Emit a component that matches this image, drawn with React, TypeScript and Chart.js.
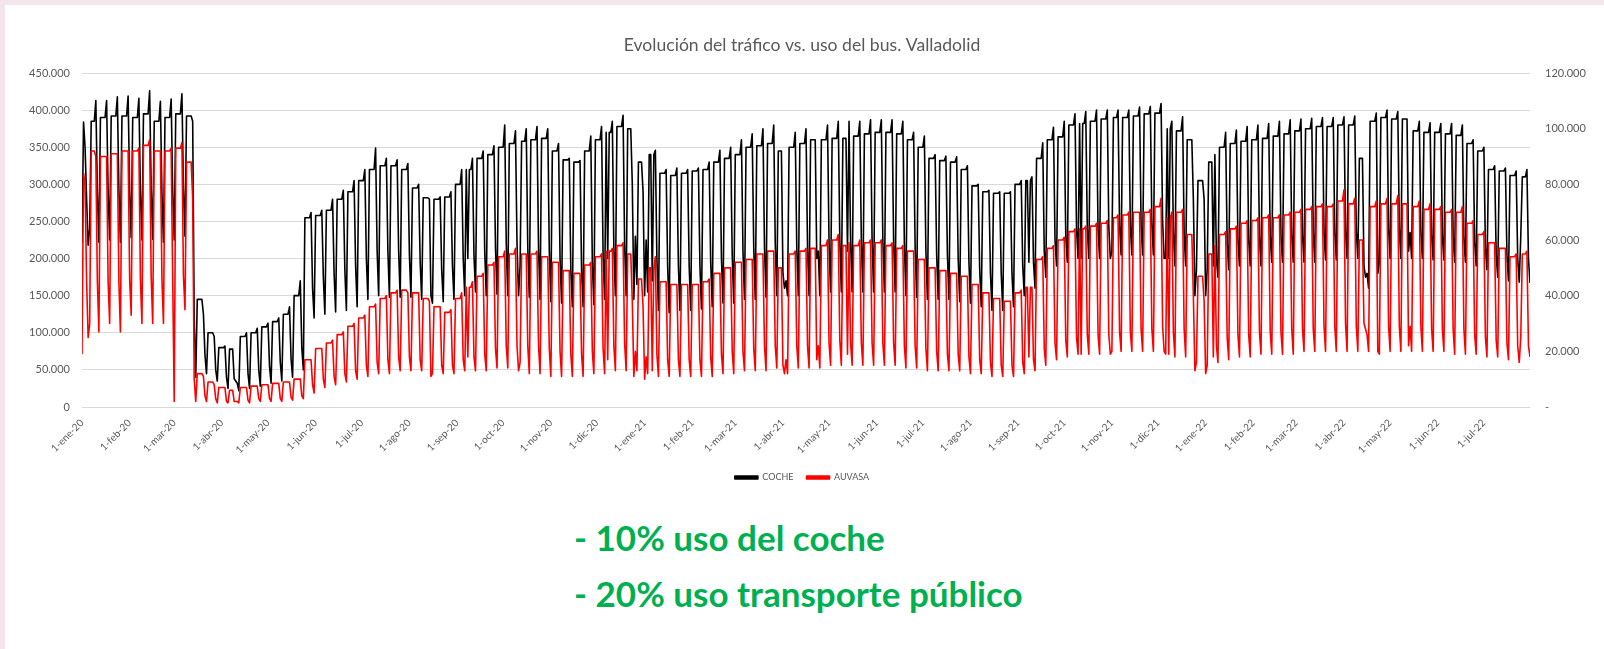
import React, { useEffect, useRef } from 'react';
import { Chart, registerables } from 'chart.js';

Chart.register(...registerables);

// ---------------- DATA ----------------
const chartTitle = 'Evolución del tráfico vs. uso del bus. Valladolid';
const seriesNames = ['COCHE', 'AUVASA'];

// x-axis tick labels (1st of each month, Jan-2020 .. Jul-2022)
const tickLabels = [
  '1-ene-20', '1-feb-20', '1-mar-20', '1-abr-20', '1-may-20', '1-jun-20', '1-jul-20', '1-ago-20', '1-sep-20', '1-oct-20', '1-nov-20', '1-dic-20',
  '1-ene-21', '1-feb-21', '1-mar-21', '1-abr-21', '1-may-21', '1-jun-21', '1-jul-21', '1-ago-21', '1-sep-21', '1-oct-21', '1-nov-21', '1-dic-21',
  '1-ene-22', '1-feb-22', '1-mar-22', '1-abr-22', '1-may-22', '1-jun-22', '1-jul-22',
];

// Daily series from 2020-01-01 to 2022-07-31, read week by week (thousands).
// Week 0 = Wed 1-Jan-2020 .. Sun 5-Jan-2020, then Monday-based weeks.
// COCHE (left axis): Mon-Thu level, Friday, Saturday, Sunday
const cocheWeekday = [
  384, 385, 390, 392, 392, 390, 395, 385, 390, 395, 392, 145, 100, 80, 78, 95, 100, 108, 115, 125, 150, 255,
  258, 265, 280, 290, 305, 320, 325, 325, 320, 295, 282, 280, 283, 300, 320, 335, 340, 350, 355, 358, 360, 362,
  345, 333, 330, 345, 360, 370, 378, 375, 330, 340, 315, 312, 315, 318, 320, 330, 335, 340, 350, 352, 355, 345,
  350, 355, 360, 360, 362, 362, 365, 368, 370, 370, 368, 360, 350, 335, 332, 330, 320, 298, 290, 288, 288, 300,
  305, 335, 360, 364, 380, 382, 385, 388, 390, 390, 392, 395, 396, 375, 372, 360, 305, 330, 350, 355, 358, 360,
  362, 365, 368, 372, 375, 378, 378, 380, 380, 335, 385, 390, 388, 388, 372, 370, 370, 368, 366, 355, 345, 320,
  318, 312, 310,
];
const cocheFriday = [
  350, 413, 413, 418, 419, 416, 426, 412, 415, 422, 385, 125, 95, 82, 35, 100, 106, 113, 120, 135, 170, 262,
  265, 280, 292, 305, 320, 349, 335, 333, 328, 300, 280, 283, 290, 320, 335, 345, 352, 380, 372, 375, 378, 375,
  355, 335, 332, 365, 378, 385, 393, 300, 300, 346, 320, 322, 320, 322, 330, 346, 350, 360, 368, 375, 380, 160,
  370, 375, 380, 380, 385, 385, 385, 387, 387, 387, 385, 370, 365, 340, 338, 337, 325, 300, 292, 290, 290, 305,
  310, 356, 377, 385, 395, 398, 400, 400, 400, 400, 404, 405, 409, 385, 391, 280, 280, 340, 370, 373, 378, 380,
  382, 385, 387, 388, 389, 390, 390, 391, 392, 175, 396, 400, 398, 395, 385, 383, 382, 382, 380, 360, 350, 325,
  322, 318, 320,
];
const cocheSaturday = [
  280, 290, 290, 292, 292, 290, 295, 288, 292, 295, 120, 70, 50, 40, 32, 45, 50, 55, 60, 65, 80, 160,
  175, 180, 185, 190, 200, 210, 210, 210, 205, 195, 185, 185, 190, 200, 205, 210, 215, 220, 220, 215, 215, 210,
  200, 185, 185, 195, 205, 215, 220, 230, 225, 200, 190, 190, 190, 190, 195, 200, 205, 210, 215, 215, 220, 170,
  215, 215, 210, 220, 225, 225, 225, 225, 225, 225, 220, 215, 210, 205, 205, 200, 195, 185, 180, 180, 180, 190,
  195, 210, 225, 230, 240, 240, 240, 242, 245, 245, 245, 248, 250, 235, 235, 150, 150, 200, 220, 225, 225, 228,
  230, 230, 232, 232, 235, 235, 235, 238, 238, 180, 240, 240, 240, 235, 235, 232, 230, 230, 228, 222, 215, 205,
  205, 200, 200,
];
const cocheSunday = [
  218, 222, 225, 222, 228, 225, 226, 222, 225, 230, 40, 45, 35, 25, 22, 25, 28, 32, 35, 40, 50, 120,
  125, 128, 130, 135, 145, 150, 148, 148, 148, 145, 140, 142, 145, 150, 155, 150, 152, 150, 150, 148, 145, 142,
  140, 135, 135, 138, 145, 150, 150, 165, 155, 130, 127, 130, 130, 132, 135, 140, 140, 145, 145, 148, 150, 150,
  150, 150, 150, 155, 155, 155, 155, 155, 155, 155, 150, 148, 145, 145, 145, 142, 140, 135, 130, 130, 135, 150,
  160, 175, 190, 195, 200, 200, 200, 200, 205, 205, 205, 205, 200, 190, 190, 185, 185, 175, 185, 190, 190, 190,
  195, 195, 195, 195, 195, 198, 198, 200, 200, 160, 195, 200, 200, 200, 200, 198, 198, 195, 195, 190, 185, 175,
  170, 168, 167,
];

// AUVASA (right axis): Mon-Thu level, Friday, Saturday, Sunday
const auvasaWeekday = [
  84, 92, 90, 91, 92, 92, 94, 92, 92, 93, 88, 12, 9, 7, 6, 7, 7.5, 8, 8.5, 9, 10, 17,
  21, 23, 26, 29, 32, 36, 39, 41, 42, 41, 39, 36, 34, 39, 43, 47, 51, 54, 55, 55, 55, 54,
  52, 49, 48, 51, 54, 56, 58, 55, 46, 50, 45, 44, 44, 44, 45, 48, 50, 52, 53, 55, 56, 50,
  55, 56, 57, 58, 60, 58, 58, 59, 59, 58, 57, 56, 53, 50, 49, 48, 47, 44, 41, 39, 38, 41,
  43, 53, 57, 60, 63, 64, 65, 66, 68, 69, 70, 70, 72, 68, 70, 62, 47, 55, 62, 64, 66, 67,
  68, 68, 69, 70, 71, 72, 72, 74, 73, 60, 72, 73, 73, 73, 72, 71, 71, 70, 70, 66, 62, 59,
  57, 54, 55,
];
const auvasaFriday = [
  80, 90, 90, 91, 92, 93, 96, 92, 93, 95, 75, 11, 8, 7, 2, 7, 7.5, 8, 8.5, 9, 10, 17,
  21, 24, 27, 30, 33, 37, 40, 42, 41, 41, 38, 36, 35, 41, 45, 48, 52, 56, 57, 55, 56, 54,
  52, 49, 48, 52, 55, 57, 59, 40, 40, 54, 45, 44, 44, 44, 46, 48, 50, 52, 53, 55, 56, 14,
  56, 57, 58, 60, 62, 59, 60, 60, 60, 59, 58, 56, 53, 50, 49, 48, 47, 44, 41, 39, 38, 42,
  43, 54, 58, 61, 64, 65, 66, 67, 69, 70, 70, 71, 75, 70, 71, 40, 38, 58, 63, 65, 67, 68,
  69, 69, 70, 71, 72, 73, 73, 78, 75, 28, 74, 75, 76, 74, 74, 73, 72, 71, 72, 67, 63, 59,
  57, 55, 56,
];
const auvasaSaturday = [
  45, 45, 45, 45, 46, 46, 47, 46, 46, 47, 10, 4, 3, 2, 2, 2.5, 3, 3, 3, 3.5, 4, 8,
  10, 11, 12, 13, 15, 16, 17, 18, 18, 17, 16, 15, 15, 17, 18, 19, 21, 22, 22, 22, 22, 21,
  20, 19, 19, 20, 21, 22, 23, 20, 18, 19, 17, 17, 17, 17, 18, 19, 20, 20, 21, 22, 22, 17,
  22, 22, 22, 23, 24, 23, 23, 23, 23, 23, 22, 22, 21, 20, 19, 19, 18, 17, 16, 15, 15, 16,
  17, 21, 23, 24, 25, 26, 26, 26, 27, 27, 28, 28, 29, 27, 28, 13, 12, 22, 25, 26, 26, 27,
  27, 27, 28, 28, 28, 29, 29, 30, 29, 26, 29, 29, 29, 29, 29, 28, 28, 28, 28, 26, 25, 24,
  23, 22, 22,
];
const auvasaSunday = [
  25, 27, 30, 27, 33, 30, 30, 30, 2, 35, 2, 2, 1.5, 1.5, 1.5, 1.5, 2, 2, 2, 2.5, 3, 5,
  7, 8, 9, 10, 11, 12, 12, 13, 13, 13, 12, 12, 12, 13, 13, 13, 14, 14, 13, 12, 12, 11,
  11, 11, 11, 12, 12, 13, 13, 13, 12, 11, 11, 11, 11, 11, 11, 12, 12, 13, 13, 13, 14, 12,
  14, 14, 14, 15, 15, 15, 15, 15, 15, 15, 14, 14, 13, 13, 13, 13, 12, 12, 11, 11, 11, 12,
  13, 15, 17, 18, 19, 19, 19, 19, 20, 20, 20, 20, 20, 18, 18, 16, 15, 16, 17, 18, 18, 19,
  19, 19, 19, 20, 20, 20, 20, 20, 20, 20, 19, 20, 20, 20, 20, 20, 20, 19, 19, 19, 18, 18,
  17, 16, 18,
];

// Holidays and special days (thousands)
const holidayDates = [
  '2020-01-01', '2020-01-06', '2020-04-09', '2020-04-10', '2020-08-15', '2020-09-08', '2020-10-12', '2020-12-08',
  '2020-12-24', '2020-12-25', '2020-12-31', '2021-01-01', '2021-01-06', '2021-04-01', '2021-04-02', '2021-04-23',
  '2021-05-13', '2021-09-08', '2021-10-12', '2021-11-01', '2021-12-06', '2021-12-08', '2021-12-24', '2021-12-25',
  '2021-12-31', '2022-01-01', '2022-01-06', '2022-04-14', '2022-04-15', '2022-04-23', '2022-05-13', '2022-07-25',
];
const holidayCoche = [
  221, 240, 38, 35, 150, 200, 190, 200,
  300, 145, 290, 150, 170, 180, 160, 200,
  210, 195, 200, 210, 200, 200, 280, 150,
  280, 150, 190, 190, 175, 180, 210, 230,
];
const holidayAuvasa = [
  19, 30, 2, 2, 11, 18, 16, 17,
  38, 11, 36, 10, 13, 15, 12, 17,
  19, 18, 19, 20, 19, 19, 40, 13,
  38, 12, 18, 30, 28, 20, 22, 25,
];

// axis ticks
const leftMax = 450000;
const leftStep = 50000;
const rightMax = 120000;
const rightStep = 20000;

// ---------------- BUILD DAILY POINTS ----------------
const DAY_MS = 86400000;
const START = Date.UTC(2020, 0, 1);
const END = Date.UTC(2022, 6, 31);
const NDAYS = Math.round((END - START) / DAY_MS) + 1;

const holidayIndex = new Map<string, number>(holidayDates.map((d, i) => [d, i] as [string, number]));

const cochePts: { x: number; y: number }[] = [];
const auvasaPts: { x: number; y: number }[] = [];
for (let d = 0; d < NDAYS; d++) {
  const dt = new Date(START + d * DAY_MS);
  const iso = dt.toISOString().slice(0, 10);
  const dow = dt.getUTCDay();
  const w = d < 5 ? 0 : Math.floor((d - 5) / 7) + 1;
  let c: number;
  let a: number;
  const h = holidayIndex.get(iso);
  if (h !== undefined) {
    c = holidayCoche[h];
    a = holidayAuvasa[h];
  } else if (dow === 0) {
    c = cocheSunday[w];
    a = auvasaSunday[w];
  } else if (dow === 6) {
    c = cocheSaturday[w];
    a = auvasaSaturday[w];
  } else if (dow === 5) {
    c = cocheFriday[w];
    a = auvasaFriday[w];
  } else {
    c = cocheWeekday[w];
    a = auvasaWeekday[w];
  }
  cochePts.push({ x: d, y: c * 1000 });
  auvasaPts.push({ x: d, y: a * 1000 });
}

const tickDays = tickLabels.map((_, i) =>
  Math.round((Date.UTC(2020 + Math.floor(i / 12), i % 12, 1) - START) / DAY_MS)
);

const fmt = (v: number) => String(Math.round(v)).replace(/\B(?=(\d{3})+(?!\d))/g, '.');

const FONT = 'Lato, "Open Sans", sans-serif';
const GRAY = '#595959';

export default function App() {
  const ref = useRef<HTMLCanvasElement | null>(null);

  useEffect(() => {
    if (!ref.current) return;
    const chart = new Chart(ref.current, {
      type: 'line',
      data: {
        datasets: [
          {
            label: seriesNames[0],
            data: cochePts,
            borderColor: '#000000',
            backgroundColor: '#000000',
            borderWidth: 1.6,
            pointRadius: 0,
            tension: 0,
            borderJoinStyle: 'round',
            yAxisID: 'y',
            order: 2,
          },
          {
            label: seriesNames[1],
            data: auvasaPts,
            borderColor: '#ff0000',
            backgroundColor: '#ff0000',
            borderWidth: 1.6,
            pointRadius: 0,
            tension: 0,
            borderJoinStyle: 'round',
            yAxisID: 'y1',
            order: 1,
          },
        ],
      },
      options: {
        responsive: false,
        animation: false,
        devicePixelRatio: 1,
        layout: { padding: { left: 0, right: 0, top: 0, bottom: 0 } },
        scales: {
          x: {
            type: 'linear',
            min: 0,
            max: NDAYS - 1,
            afterBuildTicks: (s: any) => {
              s.ticks = tickDays.map((v) => ({ value: v }));
            },
            afterFit: (s: any) => {
              s.height = 53;
            },
            ticks: {
              autoSkip: false,
              maxRotation: 45,
              minRotation: 45,
              padding: 2,
              color: GRAY,
              font: { family: FONT, size: 10 },
              callback: (_v: any, i: number) => tickLabels[i],
            },
            grid: { display: false },
            border: { display: false },
          },
          y: {
            position: 'left',
            min: 0,
            max: leftMax,
            afterFit: (s: any) => {
              s.width = 82;
            },
            ticks: {
              stepSize: leftStep,
              padding: 12,
              color: GRAY,
              font: { family: FONT, size: 11 },
              callback: (v: any) => fmt(Number(v)),
            },
            grid: { color: '#d9d9d9', lineWidth: 1, drawTicks: false },
            border: { display: false },
          },
          y1: {
            position: 'right',
            min: 0,
            max: rightMax,
            afterFit: (s: any) => {
              s.width = 74;
            },
            ticks: {
              stepSize: rightStep,
              padding: 15,
              color: GRAY,
              font: { family: FONT, size: 11 },
              callback: (v: any) => (Number(v) === 0 ? '-' : fmt(Number(v))),
            },
            grid: { display: false, drawTicks: false },
            border: { display: false },
          },
        },
        plugins: {
          title: {
            display: true,
            text: chartTitle,
            color: GRAY,
            font: { family: FONT, size: 17.6, weight: 'normal' },
            padding: { top: 34.5, bottom: 17.4 },
          },
          legend: {
            position: 'bottom',
            labels: {
              boxWidth: 23,
              boxHeight: 3,
              padding: 13,
              color: GRAY,
              font: { family: FONT, size: 9 },
              sort: (a: any, b: any) => a.datasetIndex - b.datasetIndex,
            },
          },
          tooltip: { enabled: false },
        },
      },
    } as any);
    return () => chart.destroy();
  }, []);

  const green: React.CSSProperties = {
    position: 'absolute',
    left: 574,
    fontFamily: FONT,
    fontWeight: 700,
    fontSize: 35,
    lineHeight: '40px',
    color: '#00b050',
    whiteSpace: 'nowrap',
  };

  return (
    <div
      style={{
        position: 'fixed',
        left: 0,
        top: 0,
        width: 1604,
        height: 649,
        background: 'rgb(243,229,236)',
        overflow: 'hidden',
      }}
    >
      <div style={{ position: 'absolute', left: 5, top: 5, right: 0, bottom: 0, background: '#ffffff' }} />
      <canvas ref={ref} width={1604} height={492} style={{ position: 'absolute', left: 0, top: 0, display: 'block' }} />
      <div style={{ ...green, top: 517 }}>- 10% uso del coche</div>
      <div style={{ ...green, top: 573 }}>- 20% uso transporte público</div>
    </div>
  );
}
